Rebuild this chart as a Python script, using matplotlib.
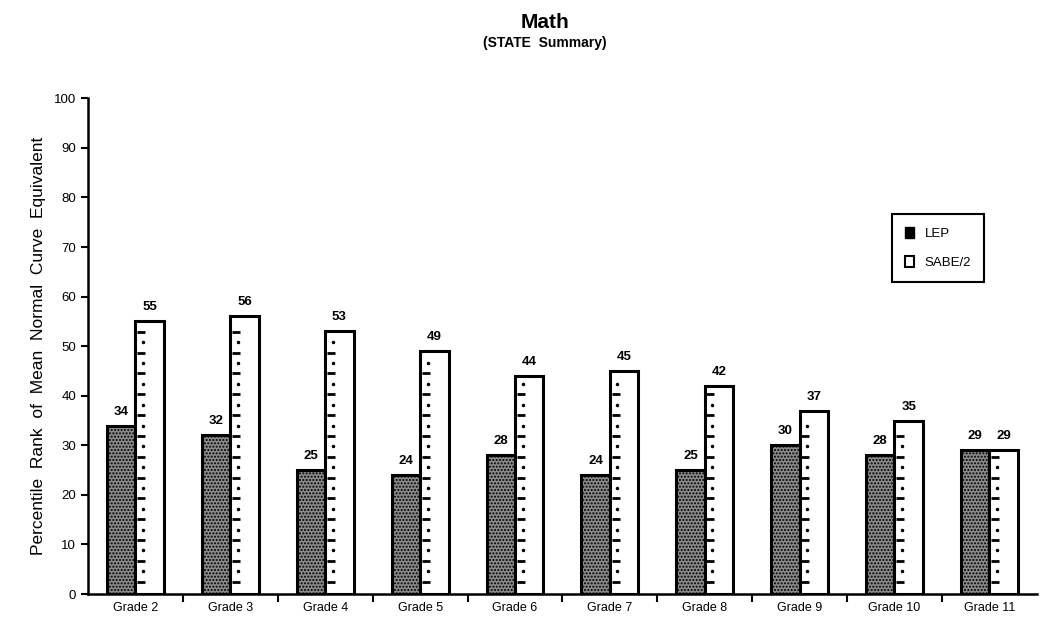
import numpy as np
import matplotlib.pyplot as plt
from matplotlib.patches import Rectangle

plt.rcParams['font.family'] = ['Liberation Sans', 'DejaVu Sans']

# datos
grados = ["Grade 2", "Grade 3", "Grade 4", "Grade 5", "Grade 6",
          "Grade 7", "Grade 8", "Grade 9", "Grade 10", "Grade 11"]
lep = [34, 32, 25, 24, 28, 24, 25, 30, 28, 29]
sabe = [55, 56, 53, 49, 44, 45, 42, 37, 35, 29]

fig = plt.figure(figsize=(10.42, 6.26), dpi=100)
ax = fig.add_axes([0.0845, 0.051, 0.9105, 0.792])

x = np.arange(len(grados))
w = 0.3
b1 = ax.bar(x - w/2, lep, w, color='#8c8c8c', edgecolor='black', linewidth=2.2,
            hatch='.....', zorder=2)
b2 = ax.bar(x + w/2, sabe, w, color='white', edgecolor='black', linewidth=2.2,
            zorder=2)

# marcas tipo regla dentro de las barras SABE/2
for xi, v in zip(x, sabe):
    yd = np.arange(2.5, v - 1, 4.2)
    ax.plot(np.full(len(yd), xi + w/2 - 0.09), yd, ls='none', marker='_',
            ms=6, mew=2, color='black', zorder=3)
    yp = yd + 2.1
    yp = yp[yp < v - 1]
    ax.plot(np.full(len(yp), xi + w/2 - 0.07), yp, ls='none', marker='.',
            ms=3, color='black', zorder=3)

for xi, v in zip(x, lep):
    ax.text(xi - w/2, v + 1.6, str(v), ha='center', va='bottom', fontsize=9.5,
            fontweight='bold')
for xi, v in zip(x, sabe):
    ax.text(xi + w/2, v + 1.6, str(v), ha='center', va='bottom', fontsize=9.5,
            fontweight='bold')

ax.set_xlim(-0.5, len(grados) - 0.5)
ax.set_ylim(0, 100)
ax.set_yticks(np.arange(0, 101, 10))
ax.tick_params(axis='y', labelsize=9.5, length=5, width=1.5, direction='out')
ax.set_xticks(x)
ax.set_xticklabels(grados, fontsize=9)
ax.tick_params(axis='x', length=0, pad=6)
ax.set_xticks(np.arange(0.5, len(grados) - 0.5, 1), minor=True)
ax.tick_params(axis='x', which='minor', length=6, width=1.5, direction='out')
for s in ['top', 'right']:
    ax.spines[s].set_visible(False)
ax.spines['left'].set_linewidth(1.8)
ax.spines['bottom'].set_linewidth(1.8)

ax.set_ylabel("Percentile  Rank  of  Mean  Normal  Curve  Equivalent",
              fontsize=12.5, labelpad=6)

fig.text(0.523, 0.955, "Math", ha='center', fontsize=15, fontweight='bold')
fig.text(0.523, 0.925, "(STATE  Summary)", ha='center', fontsize=10,
         fontweight='bold')

# leyenda
leg_h = [Rectangle((0, 0), 1, 1, facecolor='black', edgecolor='black'),
         Rectangle((0, 0), 1, 1, facecolor='white', edgecolor='black', lw=1.5)]
leg = ax.legend(leg_h, ["LEP", "SABE/2"], loc='upper left',
                bbox_to_anchor=(0.84, 0.78), fontsize=9.5, handlelength=0.7,
                handleheight=0.9, borderpad=1.0, labelspacing=1.2,
                fancybox=False, edgecolor='black', framealpha=1)
leg.get_frame().set_linewidth(1.5)

fig.savefig("out.png", dpi=100)
